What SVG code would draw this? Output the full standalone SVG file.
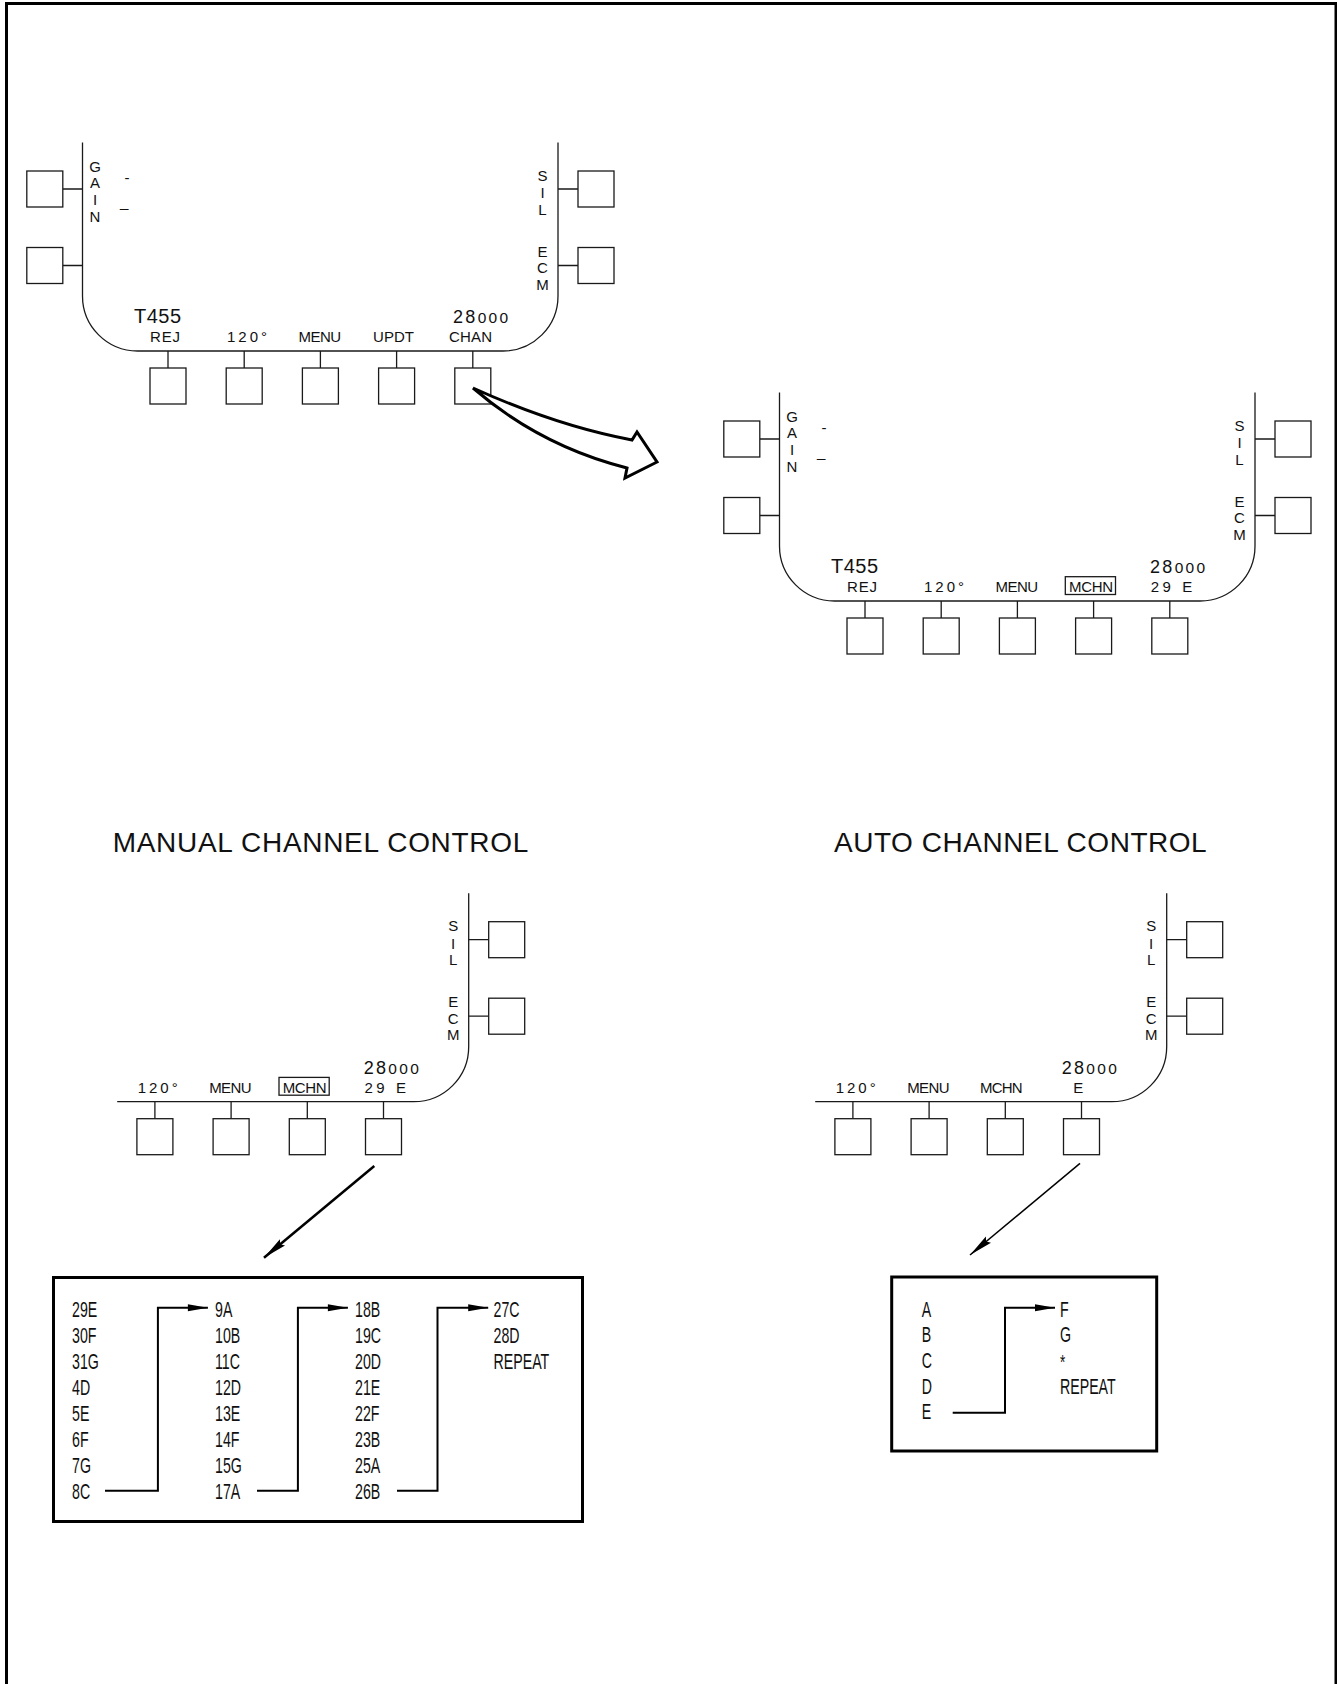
<svg xmlns="http://www.w3.org/2000/svg" width="1337" height="1684" viewBox="0 0 1337 1684">
<defs>
<style>
.ln{fill:none;stroke:#1a1a1a;stroke-width:1.3}
.bx{fill:#fff;stroke:#1a1a1a;stroke-width:1.3}
.t{font-family:'Liberation Sans Narrow','Liberation Sans',Arial,sans-serif;font-size:15px;fill:#111}
.v{text-anchor:middle}
.big{font-size:20px}
.title{font-family:'Liberation Sans',Arial,sans-serif;font-size:28px;fill:#111}
.lst{font-family:'Liberation Sans',Arial,sans-serif;font-size:22px;fill:#111}
.thk{fill:none;stroke:#000;stroke-width:2}
</style>
<marker id="ah" markerUnits="userSpaceOnUse" markerWidth="20" markerHeight="8" refX="20" refY="4" orient="auto" overflow="visible">
<path d="M0,0.5 L20,4 L0,7.5 z" fill="#000"/>
</marker>
<marker id="ahd" markerUnits="userSpaceOnUse" markerWidth="24" markerHeight="10" refX="24" refY="5" orient="auto" overflow="visible">
<path d="M0,1 L24,5 L0,9 L3,5 z" fill="#000"/>
</marker>
</defs>
<rect width="1337" height="1684" fill="#fff"/>
<path id="frame" d="M6.5,1690 V3.5 H1336 V1690" fill="none" stroke="#000" stroke-width="3"/>

<!-- Screen 1 -->
<g id="screen-main">
<path class="ln" d="M82.5,142.5 V296 A55,55 0 0 0 137.5,351 H503 A55,55 0 0 0 558,296 V142.5"/>
<path class="ln" d="M62.8,189 H82.5 M62.8,265.5 H82.5 M558,189 H578 M558,265.5 H578 M168,351 V368 M244.2,351 V368 M320.4,351 V368 M396.6,351 V368 M472.8,351 V368"/>
<rect class="bx" x="26.8" y="171" width="36" height="36"/>
<rect class="bx" x="26.8" y="247.5" width="36" height="36"/>
<rect class="bx" x="578" y="171" width="36" height="36"/>
<rect class="bx" x="578" y="247.5" width="36" height="36"/>
<rect class="bx" x="150" y="368" width="36" height="36"/>
<rect class="bx" x="226.2" y="368" width="36" height="36"/>
<rect class="bx" x="302.4" y="368" width="36" height="36"/>
<rect class="bx" x="378.6" y="368" width="36" height="36"/>
<rect class="bx" x="454.8" y="368" width="36" height="36"/>
<text class="t v" x="95" y="171.7">G</text>
<text class="t v" x="95" y="188.3">A</text>
<text class="t v" x="95" y="205">I</text>
<text class="t v" x="95" y="221.7">N</text>
<text class="t" x="124.4" y="182.5">-</text>
<text class="t" x="120" y="207">_</text>
<text class="t v" x="542.5" y="180.5">S</text>
<text class="t v" x="542.5" y="198">I</text>
<text class="t v" x="542.5" y="214.5">L</text>
<text class="t v" x="542.5" y="256.5">E</text>
<text class="t v" x="542.5" y="273">C</text>
<text class="t v" x="542.5" y="289.5">M</text>
<text class="t big" x="134" y="323" textLength="47">T455</text>
<text class="t" x="150" y="342" textLength="30">REJ</text>
<text class="t" x="227" y="342" textLength="40">120°</text>
<text class="t" x="298.5" y="342" textLength="42.5">MENU</text>
<text class="t" x="373" y="342" textLength="41">UPDT</text>
<text class="t" x="449" y="342" textLength="43">CHAN</text>
<text class="t" x="453" y="323" style="font-size:18px" letter-spacing="2.3">28<tspan style="font-size:15.5px">000</tspan></text>
</g>

<!-- Screen 2 -->
<g id="screen-chan" transform="translate(697,250)">
<path class="ln" d="M82.5,142.5 V296 A55,55 0 0 0 137.5,351 H503 A55,55 0 0 0 558,296 V142.5"/>
<path class="ln" d="M62.8,189 H82.5 M62.8,265.5 H82.5 M558,189 H578 M558,265.5 H578 M168,351 V368 M244.2,351 V368 M320.4,351 V368 M396.6,351 V368 M472.8,351 V368"/>
<rect class="bx" x="26.8" y="171" width="36" height="36"/>
<rect class="bx" x="26.8" y="247.5" width="36" height="36"/>
<rect class="bx" x="578" y="171" width="36" height="36"/>
<rect class="bx" x="578" y="247.5" width="36" height="36"/>
<rect class="bx" x="150" y="368" width="36" height="36"/>
<rect class="bx" x="226.2" y="368" width="36" height="36"/>
<rect class="bx" x="302.4" y="368" width="36" height="36"/>
<rect class="bx" x="378.6" y="368" width="36" height="36"/>
<rect class="bx" x="454.8" y="368" width="36" height="36"/>
<text class="t v" x="95" y="171.7">G</text>
<text class="t v" x="95" y="188.3">A</text>
<text class="t v" x="95" y="205">I</text>
<text class="t v" x="95" y="221.7">N</text>
<text class="t" x="124.4" y="182.5">-</text>
<text class="t" x="120" y="207">_</text>
<text class="t v" x="542.5" y="180.5">S</text>
<text class="t v" x="542.5" y="198">I</text>
<text class="t v" x="542.5" y="214.5">L</text>
<text class="t v" x="542.5" y="256.5">E</text>
<text class="t v" x="542.5" y="273">C</text>
<text class="t v" x="542.5" y="289.5">M</text>
<text class="t big" x="134" y="323" textLength="47">T455</text>
<text class="t" x="150" y="342" textLength="30">REJ</text>
<text class="t" x="227" y="342" textLength="40">120°</text>
<text class="t" x="298.5" y="342" textLength="42.5">MENU</text>
<rect class="ln" x="368.3" y="326.7" width="50.2" height="17.8"/>
<text class="t" x="372" y="342" textLength="44">MCHN</text>
<text class="t" x="453" y="323" style="font-size:18px" letter-spacing="2.3">28<tspan style="font-size:15.5px">000</tspan></text>
<text class="t" x="453.7" y="342" textLength="41.6">29 E</text>
</g>

<!-- Titles -->
<text id="title-manual" class="title" x="112.7" y="851.7" textLength="415.6">MANUAL CHANNEL CONTROL</text>
<text id="title-auto" class="title" x="834" y="851.7" textLength="372.7">AUTO CHANNEL CONTROL</text>

<!-- Screen 3 manual -->
<g id="screen-manual" transform="translate(-89.3,750.7)">
<path class="ln" d="M206.5,351 H503 A55,55 0 0 0 558,296 V142.5"/>
<path class="ln" d="M558,189 H578 M558,265.5 H578 M244.2,351 V368 M320.4,351 V368 M396.6,351 V368 M472.8,351 V368"/>
<rect class="bx" x="578" y="171" width="36" height="36"/>
<rect class="bx" x="578" y="247.5" width="36" height="36"/>
<rect class="bx" x="226.2" y="368" width="36" height="36"/>
<rect class="bx" x="302.4" y="368" width="36" height="36"/>
<rect class="bx" x="378.6" y="368" width="36" height="36"/>
<rect class="bx" x="454.8" y="368" width="36" height="36"/>
<text class="t v" x="542.5" y="180.5">S</text>
<text class="t v" x="542.5" y="198">I</text>
<text class="t v" x="542.5" y="214.5">L</text>
<text class="t v" x="542.5" y="256.5">E</text>
<text class="t v" x="542.5" y="273">C</text>
<text class="t v" x="542.5" y="289.5">M</text>
<text class="t" x="227" y="342" textLength="40">120°</text>
<text class="t" x="298.5" y="342" textLength="42.5">MENU</text>
<rect class="ln" x="368.3" y="326.7" width="50.2" height="17.8"/>
<text class="t" x="372" y="342" textLength="44">MCHN</text>
<text class="t" x="453" y="323" style="font-size:18px" letter-spacing="2.3">28<tspan style="font-size:15.5px">000</tspan></text>
<text class="t" x="453.7" y="342" textLength="41.6">29 E</text>
</g>

<!-- Screen 4 auto -->
<g id="screen-auto" transform="translate(608.7,750.7)">
<path class="ln" d="M206.5,351 H503 A55,55 0 0 0 558,296 V142.5"/>
<path class="ln" d="M558,189 H578 M558,265.5 H578 M244.2,351 V368 M320.4,351 V368 M396.6,351 V368 M472.8,351 V368"/>
<rect class="bx" x="578" y="171" width="36" height="36"/>
<rect class="bx" x="578" y="247.5" width="36" height="36"/>
<rect class="bx" x="226.2" y="368" width="36" height="36"/>
<rect class="bx" x="302.4" y="368" width="36" height="36"/>
<rect class="bx" x="378.6" y="368" width="36" height="36"/>
<rect class="bx" x="454.8" y="368" width="36" height="36"/>
<text class="t v" x="542.5" y="180.5">S</text>
<text class="t v" x="542.5" y="198">I</text>
<text class="t v" x="542.5" y="214.5">L</text>
<text class="t v" x="542.5" y="256.5">E</text>
<text class="t v" x="542.5" y="273">C</text>
<text class="t v" x="542.5" y="289.5">M</text>
<text class="t" x="227" y="342" textLength="40">120°</text>
<text class="t" x="298.5" y="342" textLength="42.5">MENU</text>
<text class="t" x="371.3" y="342" textLength="42.7">MCHN</text>
<text class="t" x="453" y="323" style="font-size:18px" letter-spacing="2.3">28<tspan style="font-size:15.5px">000</tspan></text>
<text class="t" x="464.6" y="342">E</text>
</g>

<!-- Manual sequence box -->
<g id="seq-manual">
<rect x="53.5" y="1277.5" width="529" height="244" fill="#fff" stroke="#000" stroke-width="3"/>
<g transform="translate(72.1,0) scale(0.645,1)" class="lst">
<text x="0" y="1316.7">29E</text><text x="0" y="1342.8">30F</text><text x="0" y="1368.9">31G</text><text x="0" y="1395">4D</text>
<text x="0" y="1421.1">5E</text><text x="0" y="1447.2">6F</text><text x="0" y="1473.3">7G</text><text x="0" y="1499.4">8C</text>
</g>
<g transform="translate(215,0) scale(0.645,1)" class="lst">
<text x="0" y="1316.7">9A</text><text x="0" y="1342.8">10B</text><text x="0" y="1368.9">11C</text><text x="0" y="1395">12D</text>
<text x="0" y="1421.1">13E</text><text x="0" y="1447.2">14F</text><text x="0" y="1473.3">15G</text><text x="0" y="1499.4">17A</text>
</g>
<g transform="translate(355,0) scale(0.645,1)" class="lst">
<text x="0" y="1316.7">18B</text><text x="0" y="1342.8">19C</text><text x="0" y="1368.9">20D</text><text x="0" y="1395">21E</text>
<text x="0" y="1421.1">22F</text><text x="0" y="1447.2">23B</text><text x="0" y="1473.3">25A</text><text x="0" y="1499.4">26B</text>
</g>
<g transform="translate(493.6,0) scale(0.645,1)" class="lst">
<text x="0" y="1316.7">27C</text><text x="0" y="1342.8">28D</text><text x="0" y="1368.9">REPEAT</text>
</g>
</g>

<!-- Auto sequence box -->
<g id="seq-auto">
<rect x="891.7" y="1277" width="265" height="174" fill="#fff" stroke="#000" stroke-width="3"/>
<g transform="translate(921.7,0) scale(0.645,1)" class="lst">
<text x="0" y="1316.7">A</text><text x="0" y="1342.3">B</text><text x="0" y="1368">C</text><text x="0" y="1393.6">D</text><text x="0" y="1419.3">E</text>
</g>
<g transform="translate(1060,0) scale(0.645,1)" class="lst">
<text x="0" y="1316.7">F</text><text x="0" y="1342.3">G</text><text x="0" y="1369" style="font-size:21px">*</text><text x="0" y="1393.6">REPEAT</text>
</g>
</g>

<!-- Connectors -->
<g id="connectors">
<path d="M473,388 Q557,426 632,440 L637,432 L657,462 L625,478 L627,468 Q540,446 473,388 Z" fill="#fff" stroke="#000" stroke-width="3" stroke-linejoin="miter"/>
<path d="M374.3,1166 L264,1257.7" fill="none" stroke="#000" stroke-width="2.5" marker-end="url(#ahd)"/>
<path d="M1080,1163.3 L970,1255" fill="none" stroke="#000" stroke-width="1.5" marker-end="url(#ahd)"/>
<path class="thk" d="M105,1490.7 H157.9 V1307.7 H207.9" marker-end="url(#ah)"/>
<path class="thk" d="M257,1490.7 H297.9 V1307.7 H347.9" marker-end="url(#ah)"/>
<path class="thk" d="M397,1490.7 H437.5 V1307.7 H488.2" marker-end="url(#ah)"/>
<path class="thk" d="M952.7,1412.7 H1005 V1307.7 H1055" marker-end="url(#ah)"/>
</g>
</svg>
